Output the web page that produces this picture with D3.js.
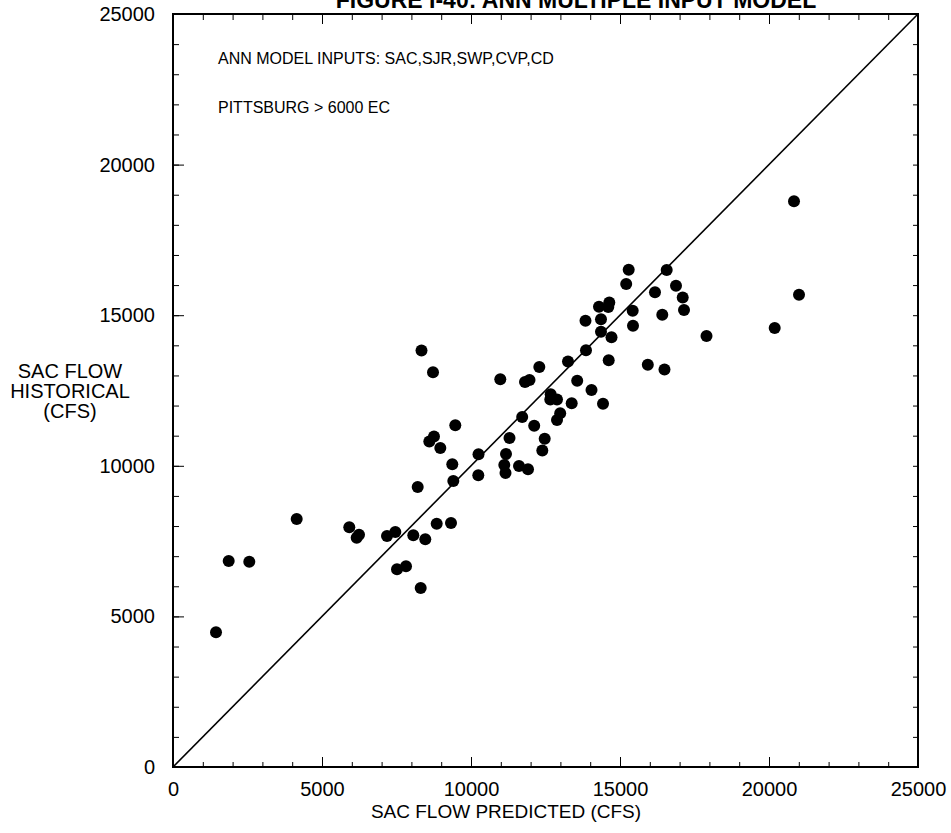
<!DOCTYPE html>
<html>
<head>
<meta charset="utf-8">
<script src="https://cdn.jsdelivr.net/npm/d3@7"></script>
<style>
  body { margin: 0; background: #fff; }
  svg text { font-family: "Liberation Sans", Arial, Helvetica, sans-serif; fill: #000; }
  .axis path, .axis line { stroke: #000; }
</style>
</head>
<body>
<svg id="chart" width="951" height="833"></svg>
<script>
// chart values
const predicted = [1443, 1869, 2560, 4151, 5916, 6242, 6164, 7181, 7460, 8064,
                   8466, 7517, 7819, 8312, 8849, 9329, 8211, 9406, 9372, 10252,
                   10245, 11117, 11158, 11174, 11611, 11913, 12393, 8758, 8601, 8970,
                   8339, 8725, 9473, 10983, 11812, 11963, 12292, 11718, 11292, 12121,
                   12473, 12674, 12661, 12886, 12993, 12886, 13379, 13564, 14044, 14430,
                   13255, 13859, 14621, 15933, 16493, 14362, 14715, 13842, 14362, 14295,
                   14641, 14607, 15426, 15436, 16419, 16174, 15208, 15292, 16567, 16879,
                   17104, 17148, 17903, 20191, 20839, 21007];
const historical = [4472, 6839, 6816, 8234, 7958, 7713, 7613, 7669, 7802, 7692,
                    7560, 6564, 6663, 5943, 8078, 8101, 9296, 9495, 10050, 10385,
                    9685, 10027, 9761, 10392, 9993, 9884, 10508, 10973, 10807, 10591,
                    13828, 13104, 11348, 12872, 12782, 12849, 13280, 11620, 10923, 11331,
                    10900, 12374, 12201, 12201, 11743, 11521, 12078, 12825, 12517, 12062,
                    13463, 13838, 13503, 13357, 13197, 14449, 14266, 14817, 14864, 15282,
                    15422, 15272, 15149, 14651, 15013, 15760, 16036, 16507, 16501, 15979,
                    15588, 15173, 14309, 14575, 18782, 15681];
const majorTicks = [0, 5000, 10000, 15000, 20000, 25000];
const minorTicks = d3.range(0, 25001, 1000);
const yLabelLines = ["SAC FLOW", "HISTORICAL", "(CFS)"];
const notes = ["ANN MODEL INPUTS: SAC,SJR,SWP,CVP,CD", "PITTSBURG > 6000 EC"];

// layout
const plot = {left: 173, right: 918, top: 14, bottom: 767};
const dotRadius = 6;

const svg = d3.select("#chart");

const x = d3.scaleLinear().domain([0, 25000]).range([plot.left, plot.right]);
const y = d3.scaleLinear().domain([0, 25000]).range([plot.bottom, plot.top]);

//Minor ticks on all four sides, pointing inward
function minorAxis(axis, size) {
    return axis.tickValues(minorTicks).tickFormat("").tickSize(size).tickSizeOuter(0);
}
svg.append("g").attr("class", "axis").attr("transform", `translate(${plot.left},0)`)
    .call(minorAxis(d3.axisLeft(y), -6)).call(g => g.select(".domain").remove());
svg.append("g").attr("class", "axis").attr("transform", `translate(${plot.right},0)`)
    .call(minorAxis(d3.axisRight(y), -5)).call(g => g.select(".domain").remove());
svg.append("g").attr("class", "axis").attr("transform", `translate(0,${plot.top})`)
    .call(minorAxis(d3.axisTop(x), -6)).call(g => g.select(".domain").remove());
svg.append("g").attr("class", "axis").attr("transform", `translate(0,${plot.bottom})`)
    .call(minorAxis(d3.axisBottom(x), -5)).call(g => g.select(".domain").remove());

//Major ticks with labels on left and bottom
svg.append("g").attr("class", "axis").attr("transform", `translate(${plot.left},0)`)
    .call(d3.axisLeft(y).tickValues(majorTicks).tickFormat(d3.format("d"))
        .tickSize(-11).tickSizeOuter(0).tickPadding(18))
    .call(g => g.select(".domain").remove())
    .call(g => g.selectAll("text").attr("font-size", 20));
svg.append("g").attr("class", "axis").attr("transform", `translate(0,${plot.bottom})`)
    .call(d3.axisBottom(x).tickValues(majorTicks).tickFormat(d3.format("d"))
        .tickSize(-10).tickSizeOuter(0).tickPadding(15))
    .call(g => g.select(".domain").remove())
    .call(g => g.selectAll("text").attr("font-size", 20));
svg.append("g").attr("class", "axis").attr("transform", `translate(0,${plot.top})`)
    .call(d3.axisTop(x).tickValues(majorTicks).tickFormat("").tickSize(-10).tickSizeOuter(0))
    .call(g => g.select(".domain").remove());

//Frame
svg.append("rect")
    .attr("x", plot.left).attr("y", plot.top)
    .attr("width", plot.right - plot.left).attr("height", plot.bottom - plot.top)
    .attr("fill", "none").attr("stroke", "#000").attr("stroke-width", 2);

//1:1 line
svg.append("line")
    .attr("x1", x(0)).attr("y1", y(0))
    .attr("x2", x(25000)).attr("y2", y(25000))
    .attr("stroke", "#000").attr("stroke-width", 1.6);

//Points
svg.append("g").selectAll("circle")
    .data(predicted.map((p, i) => ({p: p, h: historical[i]})))
    .join("circle")
    .attr("cx", d => x(d.p))
    .attr("cy", d => y(d.h))
    .attr("r", dotRadius)
    .attr("fill", "#000");

//Notes inside the plot
svg.selectAll("text.note")
    .data(notes)
    .join("text").classed("note", true)
    .attr("x", 218)
    .attr("y", (d, i) => 64 + i * 49)
    .attr("font-size", 16)
    .text(d => d);

//Axis titles
svg.append("text")
    .attr("x", 506).attr("y", 818)
    .attr("text-anchor", "middle")
    .attr("font-size", 19)
    .text("SAC FLOW PREDICTED (CFS)");
svg.append("text")
    .attr("text-anchor", "middle")
    .attr("font-size", 20)
    .selectAll("tspan")
    .data(yLabelLines)
    .join("tspan")
    .attr("x", 70)
    .attr("y", (d, i) => 378 + i * 20)
    .text(d => d);

//Title, cut off by the top of the page
svg.append("text")
    .attr("x", 576).attr("y", 8)
    .attr("text-anchor", "middle")
    .attr("font-size", 23)
    .attr("font-weight", "bold")
    .text("FIGURE I-40: ANN MULTIPLE INPUT MODEL");
</script>
</body>
</html>
